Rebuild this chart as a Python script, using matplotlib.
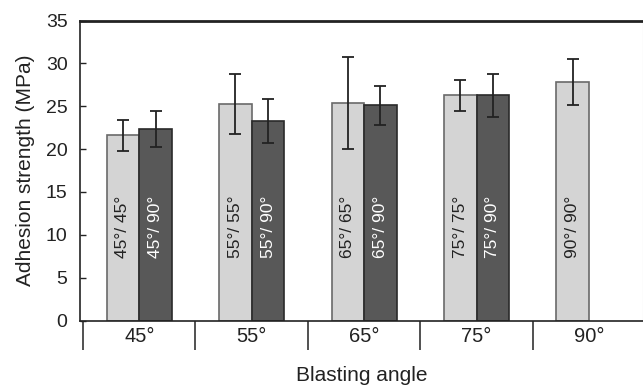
import numpy as np
import matplotlib.pyplot as plt
from matplotlib.ticker import FixedLocator, NullFormatter

plt.rcParams['font.family'] = ['Liberation Sans', 'DejaVu Sans']

groups = ['45°', '55°', '65°', '75°', '90°']
same_angle = [21.6, 25.3, 25.4, 26.3, 27.8]
same_err = [1.8, 3.5, 5.4, 1.8, 2.7]
same_labels = ['45°/ 45°', '55°/ 55°', '65°/ 65°', '75°/ 75°', '90°/ 90°']
with_90 = [22.3, 23.3, 25.1, 26.3, np.nan]
with_90_err = [2.1, 2.6, 2.3, 2.5, np.nan]
with_90_labels = ['45°/ 90°', '55°/ 90°', '65°/ 90°', '75°/ 90°', '']

fig = plt.figure(figsize=(6.43, 3.87), dpi=100)
ax = fig.add_axes([80 / 643, 1 - 320.5 / 387, 563 / 643, 300 / 387])

x = np.arange(len(groups))
w = 0.29
light = '#d4d4d4'
dark = '#585858'

ax.bar(x - w / 2, same_angle, w, color=light, edgecolor='#6a6a6a', linewidth=1.2, zorder=2)
ax.bar(x + w / 2, with_90, w, color=dark, edgecolor='#2a2a2a', linewidth=1.2, zorder=2)
ax.errorbar(x - w / 2, same_angle, yerr=same_err, fmt='none', ecolor='#222222',
            elinewidth=1.3, capsize=4.3, capthick=1.3, zorder=3)
ax.errorbar(x + w / 2, with_90, yerr=with_90_err, fmt='none', ecolor='#222222',
            elinewidth=1.3, capsize=4.3, capthick=1.3, zorder=3)

for xi, lab in zip(x - w / 2, same_labels):
    ax.text(xi, 10.9, lab, rotation=90, ha='center', va='center', fontsize=12.5,
            color='#222222', zorder=4)
for xi, lab in zip(x + w / 2, with_90_labels):
    if lab:
        ax.text(xi, 10.9, lab, rotation=90, ha='center', va='center', fontsize=12.5,
                color='white', zorder=4)

ax.set_ylim(0, 35)
ax.set_xlim(-0.527, 4.48)
ax.set_yticks(np.arange(0, 36, 5))
ax.tick_params(axis='y', direction='in', length=4, width=1, labelsize=14, pad=9,
               colors='#222222')

# group separators below the axis, labels at group centres
ax.xaxis.set_major_locator(FixedLocator(np.arange(-0.5, 5, 1.0)))
ax.xaxis.set_major_formatter(NullFormatter())
ax.xaxis.set_minor_locator(FixedLocator(x))
ax.set_xticks(x, minor=True)
ax.set_xticklabels(groups, minor=True)
ax.tick_params(axis='x', which='major', direction='out', length=21, width=1.2,
               color='#333333')
ax.tick_params(axis='x', which='minor', length=0, labelsize=14.5, pad=5,
               labelcolor='#222222')

for side in ['left', 'bottom']:
    ax.spines[side].set_linewidth(1.2)
    ax.spines[side].set_color('#222222')
ax.spines['top'].set_linewidth(2)
ax.spines['top'].set_color('#222222')
ax.spines['right'].set_linewidth(0.8)
ax.spines['right'].set_color('#cccccc')

ax.set_ylabel('Adhesion strength (MPa)', fontsize=15, color='#222222', labelpad=8)
ax.set_xlabel('Blasting angle', fontsize=15, color='#222222', labelpad=8)

fig.savefig('out.png', dpi=100)
